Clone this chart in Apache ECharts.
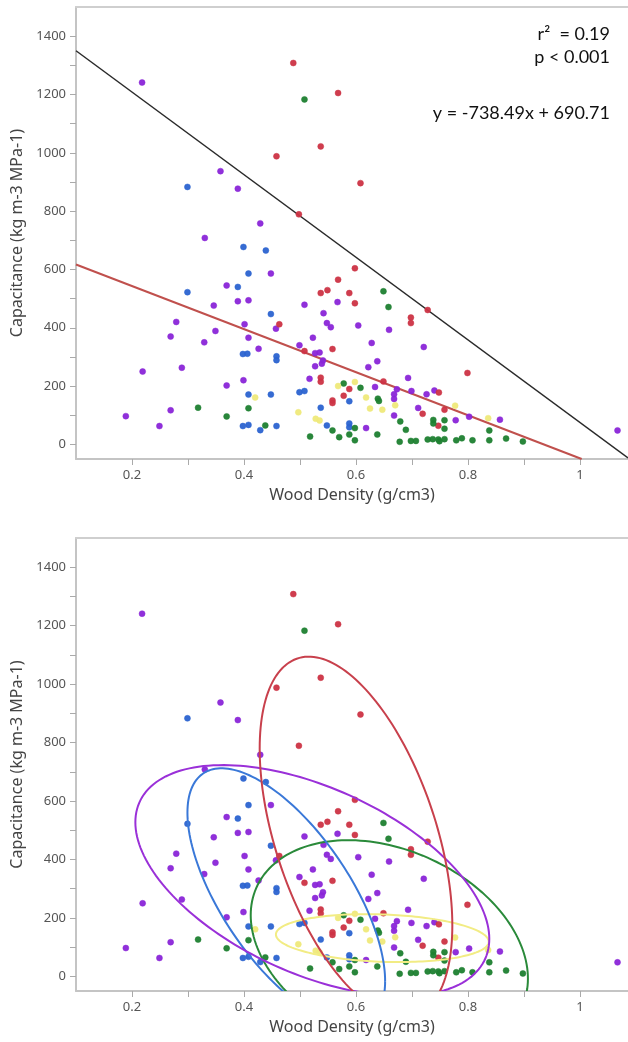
<!DOCTYPE html>
<html>
<head>
<meta charset="utf-8">
<script src="https://cdn.jsdelivr.net/npm/echarts@6/dist/echarts.min.js"></script>
<style>
html,body{margin:0;padding:0;background:#fff;}
#chart{width:628px;height:1042px;}
</style>
</head>
<body>
<div id="chart"></div>
<script>
// ---- data (x = wood density g/cm3, y = capacitance) ----
var purplePts = [[0.189,97],[0.219,250],[0.218,1241],[0.249,63],[0.269,117],[0.269,370],[0.279,420],[0.289,263],
  [0.329,350],[0.330,708],[0.346,476],[0.349,389],[0.358,937],[0.369,202],[0.369,545],[0.389,491],[0.389,877],
  [0.408,494],[0.401,412],[0.408,366],[0.448,586],[0.457,397],[0.426,328],[0.399,220],[0.429,758],[0.508,479],
  [0.523,366],[0.499,340],[0.527,313],[0.535,315],[0.527,268],[0.517,225],[0.541,288],[0.539,277],[0.542,450],
  [0.548,416],[0.555,402],[0.567,488],[0.604,408],[0.659,393],[0.628,348],[0.638,285],[0.622,265],[0.721,334],
  [0.634,197],[0.673,189],[0.668,172],[0.668,156],[0.699,183],[0.693,228],[0.726,172],[0.740,185],[0.711,125],
  [0.668,99],[0.618,56],[0.778,83],[0.802,95],[0.857,85],[1.067,48]];
var bluePts = [[0.299,883],[0.299,522],[0.389,540],[0.399,677],[0.439,665],[0.408,586],[0.448,447],[0.398,310],
  [0.406,311],[0.458,302],[0.458,289],[0.408,171],[0.448,171],[0.398,63],[0.408,67],[0.429,49],[0.458,63],
  [0.499,179],[0.508,183],[0.537,126],[0.548,65],[0.588,72],[0.588,59],[0.588,148]];
var redPts = [[0.488,1308],[0.568,1205],[0.458,988],[0.537,1022],[0.608,896],[0.498,789],[0.598,604],[0.568,565],
  [0.537,519],[0.549,529],[0.588,519],[0.598,484],[0.728,461],[0.698,435],[0.698,416],[0.463,412],[0.508,320],
  [0.558,327],[0.537,229],[0.537,215],[0.649,216],[0.588,190],[0.578,167],[0.558,151],[0.558,142],[0.748,178],
  [0.758,119],[0.719,105],[0.747,64],[0.799,245]];
var greenPts = [[0.508,1183],[0.649,525],[0.658,471],[0.318,126],[0.369,96],[0.408,124],[0.438,65],[0.518,27],
  [0.558,48],[0.570,25],[0.578,209],[0.608,194],[0.588,34],[0.598,56],[0.598,14],[0.639,157],[0.641,149],
  [0.638,34],[0.679,79],[0.689,50],[0.738,84],[0.738,72],[0.758,83],[0.758,54],[0.838,48],[0.678,9],[0.698,12],
  [0.707,12],[0.728,17],[0.737,18],[0.747,17],[0.749,11],[0.758,18],[0.779,14],[0.789,21],[0.808,14],[0.838,14],
  [0.868,20],[0.898,10]];
var yellowPts = [[0.420,161],[0.497,110],[0.528,88],[0.535,82],[0.568,200],[0.598,214],[0.618,161],[0.625,123],
  [0.647,119],[0.670,134],[0.777,133],[0.836,90]];

// fitted lines (endpoints)
var regressionLine = [[0.1,617],[1.003,-50]];
var boundaryLine = [[0.1,1350],[1.0857,-46]];

// density ellipses: [centerX, centerY, halfWidthX, halfHeightY, correlation]
var ellipseRed = [0.600,477,0.172,617,-0.49];
var ellipsePurple = [0.522,328,0.316,395,-0.505];
var ellipseBlue = [0.4755,272,0.1765,440,-0.655];
var ellipseGreen = [0.6595,101,0.2475,365,-0.297];
var ellipseYellow = [0.647,131,0.19,82,-0.15];

// axis ticks
var xLabelVals = [0.2,0.4,0.6,0.8,1.0];
var xTickVals = [0.2,0.3,0.4,0.5,0.6,0.7,0.8,0.9,1.0];
var yLabelVals = [0,200,400,600,800,1000,1200,1400];
var yTickVals = [0,100,200,300,400,500,600,700,800,900,1000,1100,1200,1300,1400];

var annotR2 = 'r\u00B2  = 0.19';
var annotP = 'p < 0.001';
var annotEq = 'y = -738.49x + 690.71';

// ---- styles ----
var C = {purple:'#8a25d8', blue:'#2b63d0', red:'#cc3344', green:'#1d8030', yellow:'#efe97a'};
var EC = {purple:'#9a30d8', blue:'#3a78d8', red:'#c8404c', green:'#2a8a3a', yellow:'#f2ec84'};
var FONT = '"Noto Sans", "Open Sans", sans-serif';

function xAxisDef(gi){
  return {
    type:'value', gridIndex:gi, min:0.1, max:1.0857,
    name:'Wood Density (g/cm3)', nameLocation:'middle', nameGap:28,
    nameTextStyle:{fontFamily:FONT, fontSize:16, color:'#444'},
    axisLine:{show:true, onZero:false, lineStyle:{color:'#c4c4c4', width:2}},
    axisTick:{show:true, length:6, customValues:xTickVals, lineStyle:{color:'#aaa'}},
    axisLabel:{customValues:xLabelVals, margin:10, fontFamily:FONT, fontSize:13, color:'#555',
      formatter:function(v){return String(Math.round(v*10)/10);}},
    splitLine:{show:false}
  };
}
function xTopDef(gi){
  return {type:'value', gridIndex:gi, position:'top', min:0.1, max:1.0857,
    axisLine:{show:true, onZero:false, lineStyle:{color:'#cfcfcf', width:2}},
    axisTick:{show:false}, axisLabel:{show:false}, splitLine:{show:false}};
}
function yAxisDef(gi){
  return {
    type:'value', gridIndex:gi, min:-50, max:1500,
    name:'Capacitance (kg m-3 MPa-1)', nameLocation:'middle', nameGap:44,
    nameTextStyle:{fontFamily:FONT, fontSize:16, color:'#444'},
    axisLine:{show:true, onZero:false, lineStyle:{color:'#c4c4c4', width:2}},
    axisTick:{show:true, length:6, customValues:yTickVals, lineStyle:{color:'#aaa'}},
    axisLabel:{customValues:yLabelVals, margin:10, fontFamily:FONT, fontSize:13, color:'#555',
      formatter:function(v){return String(Math.round(v));}},
    splitLine:{show:false}
  };
}

function scatter(pts, color, xi, yi){
  return {type:'scatter', xAxisIndex:xi, yAxisIndex:yi, data:pts, symbolSize:6, z:3,
    itemStyle:{color:color, borderColor:color, borderWidth:0.5, opacity:0.95}};
}

function ellipseSeries(params, color){
  return {
    type:'custom', xAxisIndex:1, yAxisIndex:1, z:4, clip:true, silent:true,
    data:[params],
    renderItem:function(p, api){
      var cx=api.value(0), cy=api.value(1), A=api.value(2), B=api.value(3), r=api.value(4);
      var d=Math.acos(r), pts=[];
      for(var i=0;i<=180;i++){
        var t=i/180*2*Math.PI;
        pts.push(api.coord([cx+A*Math.cos(t), cy+B*Math.cos(t-d)]));
      }
      var cs=p.coordSys;
      return {type:'group',
        clipPath:{type:'rect', shape:{x:cs.x, y:cs.y, width:cs.width, height:cs.height}},
        children:[{type:'polyline', shape:{points:pts}, style:{stroke:color, lineWidth:2, fill:null}}]};
    }
  };
}

var groups = [['purple',purplePts],['blue',bluePts],['red',redPts],['green',greenPts],['yellow',yellowPts]];
var series = [];
series.push({type:'line', xAxisIndex:0, yAxisIndex:0, data:boundaryLine, showSymbol:false, silent:true, z:1,
  lineStyle:{color:'#2a2a2a', width:1.5}});
series.push({type:'line', xAxisIndex:0, yAxisIndex:0, data:regressionLine, showSymbol:false, silent:true, z:1,
  lineStyle:{color:'#c0504d', width:2}});
groups.forEach(function(g){ series.push(scatter(g[1], C[g[0]], 0, 0)); });
groups.forEach(function(g){ series.push(scatter(g[1], C[g[0]], 1, 1)); });
series.push(ellipseSeries(ellipseYellow, EC.yellow));
series.push(ellipseSeries(ellipseGreen, EC.green));
series.push(ellipseSeries(ellipseBlue, EC.blue));
series.push(ellipseSeries(ellipsePurple, EC.purple));
series.push(ellipseSeries(ellipseRed, EC.red));

var chart = echarts.init(document.getElementById('chart'), null, {renderer:'canvas'});
chart.setOption({
  animation:false,
  backgroundColor:'#fff',
  grid:[{left:76, top:7, width:552, height:452},{left:76, top:538, width:552, height:453}],
  xAxis:[xAxisDef(0), xAxisDef(1), xTopDef(0), xTopDef(1)],
  yAxis:[yAxisDef(0), yAxisDef(1)],
  series:series,
  graphic:[
    {type:'text', right:18, top:25, style:{text:annotR2, font:'18px Lato', fill:'#111', textAlign:'right'}},
    {type:'text', right:18, top:48, style:{text:annotP, font:'18px Lato', fill:'#111', textAlign:'right'}},
    {type:'text', right:18, top:104, style:{text:annotEq, font:'18px Lato', fill:'#111', textAlign:'right'}}
  ]
});
</script>
</body>
</html>
